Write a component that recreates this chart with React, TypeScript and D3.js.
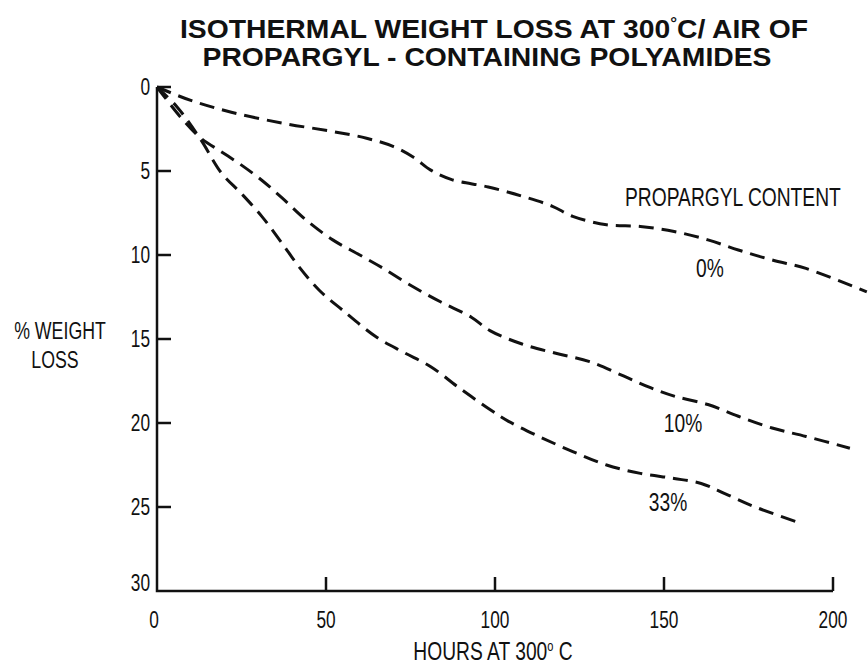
import React from 'react';
import * as d3 from 'd3';

const width = 868;
const height = 670;
const ink = '#111';

// hours on test / % weight loss
const hours0 = [0, 10, 22, 37, 52, 62, 70, 76, 81, 87, 98, 108, 117, 123, 133, 143, 153, 163, 172, 182, 192, 210];
const loss0 = [0, 0.8, 1.5, 2.15, 2.65, 3.05, 3.55, 4.2, 4.95, 5.5, 5.95, 6.5, 7.1, 7.7, 8.2, 8.3, 8.6, 9.1, 9.7, 10.3, 10.8, 12.2];

const hours10 = [0, 7, 13, 19, 25, 31, 37, 44, 52, 60, 67, 75, 84, 93, 98.5, 108, 118, 128, 138, 146, 153, 163, 172, 182, 192, 205];
const loss10 = [0, 1.8, 3.05, 3.85, 4.65, 5.55, 6.6, 7.9, 9.1, 10.0, 10.8, 11.8, 12.8, 13.7, 14.5, 15.3, 15.85, 16.35, 17.2, 17.9, 18.4, 18.9, 19.6, 20.3, 20.8, 21.5];

const hours33 = [0, 6, 13, 19, 25, 31, 37, 42, 48, 55, 65, 73, 81, 89, 98.5, 104, 113, 123, 133, 143, 153, 161, 168, 177, 191];
const loss33 = [0, 1.2, 3.15, 5.1, 6.35, 7.7, 9.3, 10.7, 12.1, 13.3, 14.9, 15.8, 16.65, 17.85, 19.2, 19.9, 20.8, 21.7, 22.5, 23.0, 23.3, 23.6, 24.2, 25.0, 26.0];

const seriesLabels = ['0%', '10%', '33%'];
const xTicks = [0, 50, 100, 150, 200];
const yTicks = [0, 5, 10, 15, 20, 25, 30];

const xScale = d3.scaleLinear().domain([0, 200]).range([157, 833]);
const yScale = d3.scaleLinear().domain([0, 30]).range([87, 591]);

const lineGenerator = d3
  .line<[number, number]>()
  .x(d => xScale(d[0]))
  .y(d => yScale(d[1]))
  .curve(d3.curveCatmullRom.alpha(0.5));

const zip = (a: number[], b: number[]) => a.map((v, i) => [v, b[i]] as [number, number]);

const series = [
  { name: seriesLabels[0], path: lineGenerator(zip(hours0, loss0)), at: [710, 277] },
  { name: seriesLabels[1], path: lineGenerator(zip(hours10, loss10)), at: [683, 432] },
  { name: seriesLabels[2], path: lineGenerator(zip(hours33, loss33)), at: [668, 511] }
];

const sans = "'Liberation Sans', Arial, sans-serif";

// condensed-looking label: squeeze horizontally around its anchor
const Cond = ({ x, y, size = 26, sx = 0.74, anchor = 'start', children }: any) => (
  <text
    transform={`translate(${x},${y}) scale(${sx},1)`}
    fontFamily={sans}
    fontSize={size}
    textAnchor={anchor}
    fill={ink}
  >
    {children}
  </text>
);

export default function App() {
  const x0 = xScale(0);
  const yBottom = yScale(30);
  const tick = 14;

  return (
    <svg
      width={width}
      height={height}
      style={{ position: 'absolute', left: 0, top: 0, background: '#fff' }}
    >
      {/* title */}
      <text
        x={494}
        y={38}
        textAnchor="middle"
        fontFamily={sans}
        fontWeight="bold"
        fontSize={25}
        textLength={628}
        lengthAdjust="spacingAndGlyphs"
        fill={ink}
      >
        ISOTHERMAL WEIGHT LOSS AT 300
        <tspan fontSize={15} dy={-10}>°</tspan>
        <tspan dy={10}>C/ AIR OF</tspan>
      </text>
      <text
        x={487}
        y={66}
        textAnchor="middle"
        fontFamily={sans}
        fontWeight="bold"
        fontSize={25}
        textLength={569}
        lengthAdjust="spacingAndGlyphs"
        fill={ink}
      >
        PROPARGYL - CONTAINING POLYAMIDES
      </text>

      {/* axes */}
      <path
        d={`M${x0},${yScale(0)}V${yBottom}H${xScale(200)}`}
        fill="none"
        stroke={ink}
        strokeWidth={2.5}
      />
      {yTicks.slice(0, -1).map(v => (
        <line key={v} x1={x0} x2={x0 + tick} y1={yScale(v)} y2={yScale(v)} stroke={ink} strokeWidth={2.5} />
      ))}
      {xTicks.slice(1).map(v => (
        <line key={v} x1={xScale(v)} x2={xScale(v)} y1={yBottom} y2={yBottom - tick} stroke={ink} strokeWidth={2.5} />
      ))}

      {yTicks.map(v => (
        <Cond key={v} x={x0 - 7} y={yScale(v) + (v === 30 ? 0 : 8)} size={24} sx={0.72} anchor="end">
          {v}
        </Cond>
      ))}
      {xTicks.map(v => (
        <Cond key={v} x={v === 0 ? x0 - 3 : xScale(v)} y={628} size={24} sx={0.72} anchor="middle">
          {v}
        </Cond>
      ))}

      <Cond x={493} y={660} anchor="middle">
        HOURS AT 300<tspan fontSize={15} dy={-9}>o</tspan>
        <tspan dy={9}> C</tspan>
      </Cond>
      <Cond x={60} y={339} size={24}>
        <tspan textAnchor="middle">% WEIGHT</tspan>
      </Cond>
      <Cond x={55} y={368} size={24}>
        <tspan textAnchor="middle">LOSS</tspan>
      </Cond>

      {/* curves */}
      {series.map(s => (
        <path
          key={s.name}
          d={s.path || ''}
          fill="none"
          stroke={ink}
          strokeWidth={3}
          strokeDasharray="15 8"
        />
      ))}

      <Cond x={625} y={206}>PROPARGYL CONTENT</Cond>
      {series.map(s => (
        <Cond key={s.name} x={s.at[0]} y={s.at[1]} anchor="middle">
          {s.name}
        </Cond>
      ))}
    </svg>
  );
}
